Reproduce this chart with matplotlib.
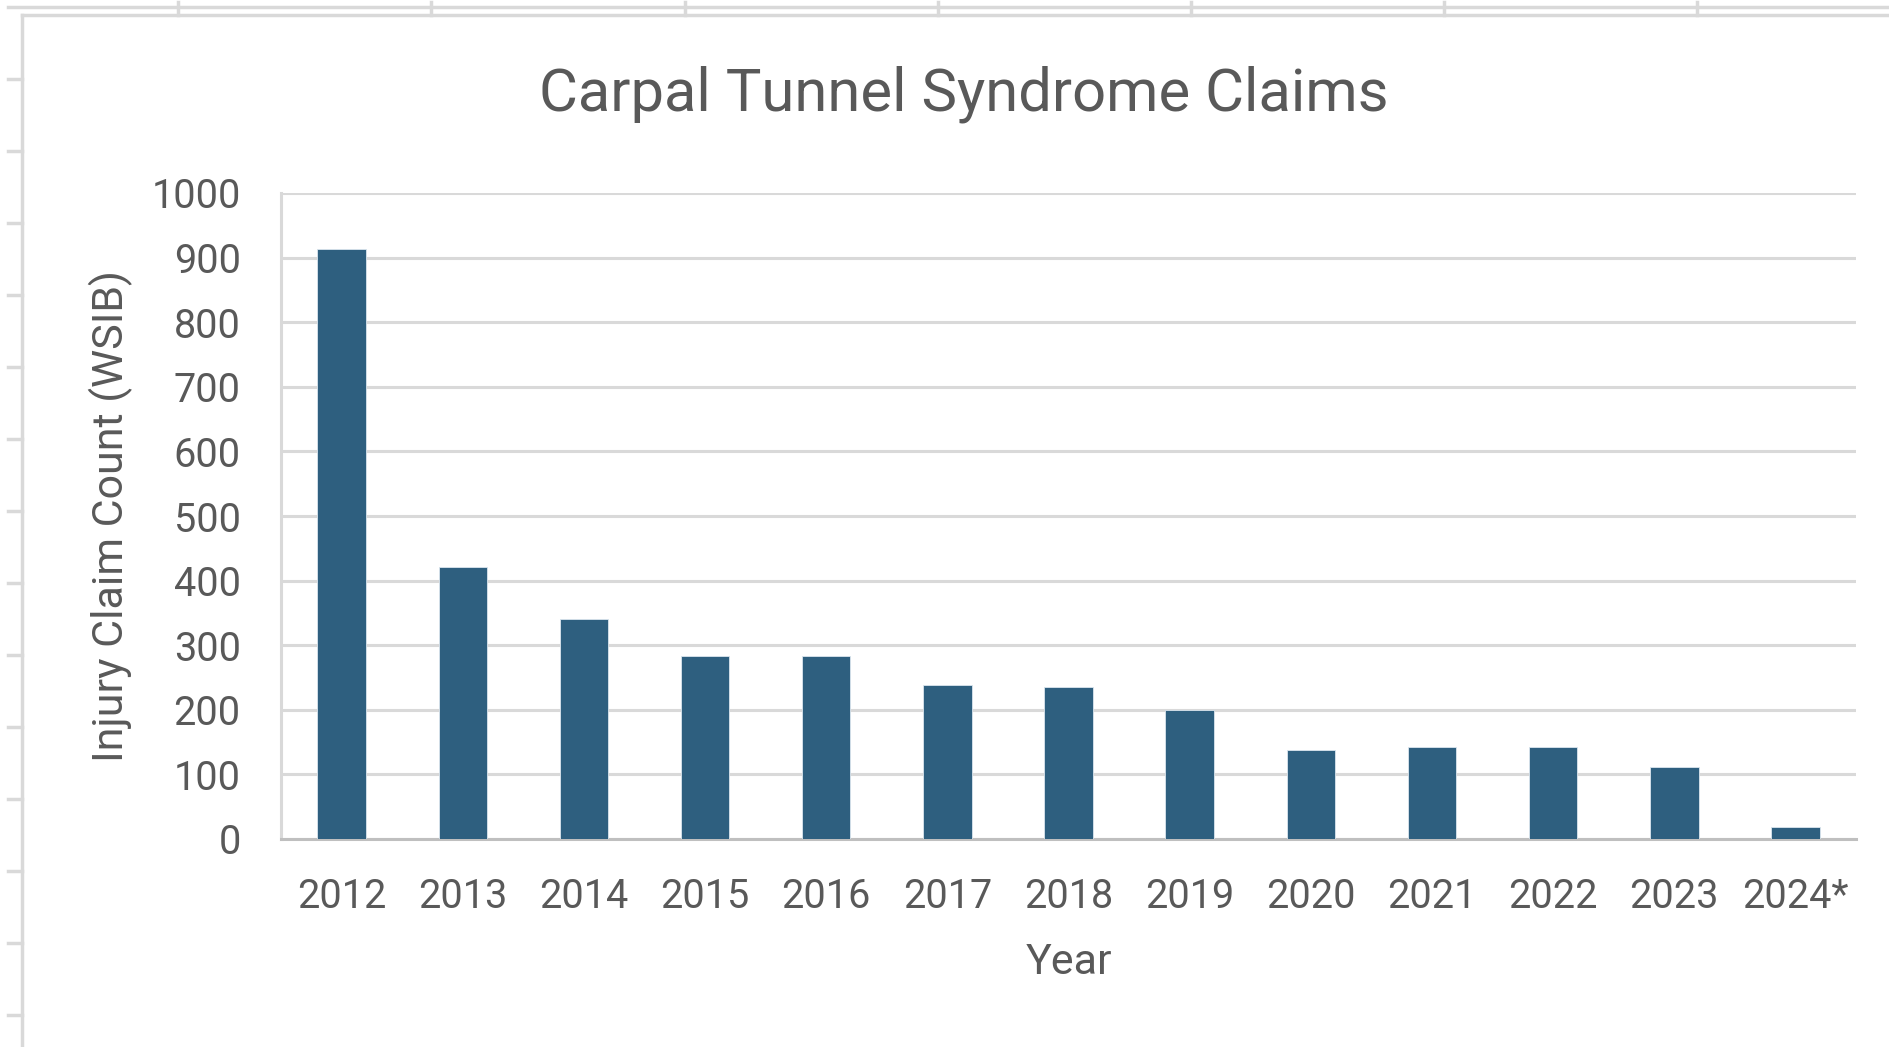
import matplotlib
matplotlib.use("Agg")
import matplotlib.pyplot as plt
from matplotlib.lines import Line2D

years = ["2012", "2013", "2014", "2015", "2016", "2017", "2018",
         "2019", "2020", "2021", "2022", "2023", "2024*"]
claims = [913, 421, 341, 284, 284, 239, 236, 199, 138, 143, 143, 111, 18]
y_ticks = [0, 100, 200, 300, 400, 500, 600, 700, 800, 900, 1000]

W, H = 1890, 1047
fig = plt.figure(figsize=(W / 100, H / 100), dpi=100)
plt.rcParams['font.family'] = ['Roboto', 'DejaVu Sans']
text_col = '#595959'
grid_col = '#d9d9d9'

# spreadsheet frame artifacts
def fx(x):
    return x / W
def fy(y):
    return 1 - y / H
frame_kw = dict(color=grid_col, lw=2.5, transform=fig.transFigure)
fig.add_artist(Line2D([fx(8), fx(1890)], [fy(7), fy(7)], **frame_kw))
fig.add_artist(Line2D([fx(22), fx(1890)], [fy(15), fy(15)], **frame_kw))
fig.add_artist(Line2D([fx(22), fx(22)], [fy(15), fy(1047)], **frame_kw))
for x in [178, 431, 685, 938, 1191, 1444, 1697]:
    fig.add_artist(Line2D([fx(x), fx(x)], [fy(2), fy(15)], **frame_kw))
for y in range(79, 1047, 72):
    fig.add_artist(Line2D([fx(8), fx(22)], [fy(y), fy(y)], **frame_kw))

ax = fig.add_axes([fx(281), fy(839), fx(1856) - fx(281), fy(193) - fy(839)])
x = list(range(len(years)))
ax.bar(x, claims, width=0.4, color='#2E5F7F', edgecolor='#dbe6ee', linewidth=0.6, zorder=3)
ax.set_xlim(-0.5, len(years) - 0.5)
ax.set_ylim(0, 1000)
ax.set_yticks(y_ticks)
ax.set_xticks(x)
ax.set_xticklabels(years)
ax.yaxis.grid(True, color=grid_col, lw=2.2, zorder=0)
ax.set_axisbelow(True)
for s in ['top', 'right']:
    ax.spines[s].set_visible(False)
ax.spines['left'].set_color(grid_col)
ax.spines['left'].set_linewidth(2.2)
ax.spines['bottom'].set_color('#bfbfbf')
ax.spines['bottom'].set_linewidth(2.2)
ax.tick_params(axis='both', length=0, labelsize=28.5, labelcolor=text_col)
ax.tick_params(axis='y', pad=29)
ax.tick_params(axis='x', pad=27)
ax.set_xlabel('Year', fontsize=31, color=text_col, labelpad=19)
ax.set_ylabel('Injury Claim Count (WSIB)', fontsize=31, color=text_col, labelpad=13)
fig.text(fx(964), fy(94), 'Carpal Tunnel Syndrome Claims', fontsize=43,
         color=text_col, ha='center', va='center')

fig.savefig('out.png', dpi=100, facecolor='white')
